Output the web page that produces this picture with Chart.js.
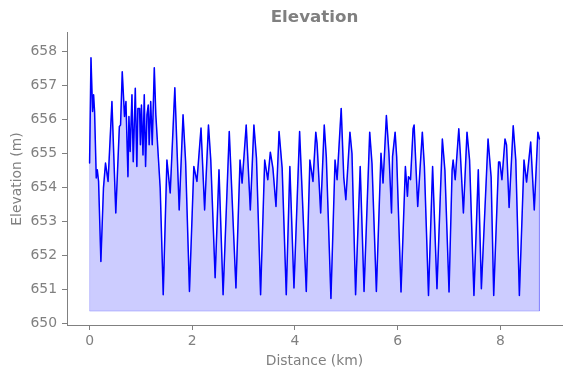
<!DOCTYPE html>
<html>
<head>
<meta charset="utf-8">
<script src="https://cdn.jsdelivr.net/npm/chart.js@4.4.0/dist/chart.umd.min.js"></script>
<style>
  html, body { margin: 0; padding: 0; background: #fff; }
  #wrap { width: 571px; height: 378px; }
</style>
</head>
<body>
<div id="wrap"><canvas id="elevChart" width="571" height="378"></canvas></div>
<script>
// Distance along the route (km) and elevation (m)
const distKm = [
  0.00, 0.027, 0.058, 0.078, 0.097, 0.13, 0.15, 0.175, 0.22, 0.27,
  0.31, 0.36, 0.435, 0.51, 0.58, 0.603, 0.636, 0.68, 0.708, 0.747,
  0.766, 0.79, 0.825, 0.85, 0.89, 0.92, 0.94, 0.973, 0.99, 1.01,
  1.04, 1.065, 1.09, 1.117, 1.142, 1.16, 1.19, 1.22, 1.26, 1.29,
  1.34, 1.375, 1.434, 1.506, 1.57, 1.66, 1.745, 1.82, 1.87, 1.945,
  2.03, 2.09, 2.17, 2.24, 2.315, 2.36, 2.445, 2.52, 2.60, 2.72,
  2.85, 2.93, 2.97, 3.05, 3.13, 3.20, 3.25, 3.33, 3.41, 3.47,
  3.52, 3.57, 3.63, 3.69, 3.75, 3.83, 3.90, 3.98, 4.09, 4.22,
  4.29, 4.35, 4.405, 4.43, 4.50, 4.57, 4.61, 4.70, 4.78, 4.82,
  4.90, 4.95, 4.99, 5.07, 5.11, 5.18, 5.27, 5.345, 5.455, 5.50,
  5.585, 5.675, 5.715, 5.78, 5.83, 5.88, 5.90, 5.95, 5.98, 6.065,
  6.15, 6.19, 6.21, 6.25, 6.30, 6.32, 6.39, 6.48, 6.52, 6.60,
  6.68, 6.765, 6.87, 6.92, 7.00, 7.06, 7.08, 7.12, 7.19, 7.22,
  7.28, 7.35, 7.40, 7.485, 7.57, 7.63, 7.76, 7.82, 7.87, 7.965,
  7.99, 8.03, 8.09, 8.12, 8.17, 8.25, 8.30, 8.37, 8.46, 8.51,
  8.59, 8.66, 8.73, 8.76
];
const elevM = [
  654.72, 657.82, 656.24, 656.73, 656.24, 654.28, 654.52, 654.18, 651.82, 653.98,
  654.72, 654.18, 656.53, 653.25, 655.80, 655.84, 657.41, 656.09, 656.53, 654.32,
  656.09, 655.06, 656.73, 654.76, 656.92, 654.62, 656.33, 656.33, 655.26, 656.43,
  654.96, 656.73, 654.62, 656.14, 656.43, 655.26, 656.53, 655.26, 657.53, 656.14,
  654.86, 653.98, 650.84, 654.81, 653.84, 656.94, 653.34, 656.14, 654.76, 650.94,
  654.62, 654.18, 655.75, 653.34, 655.84, 654.81, 651.34, 654.52, 650.84, 655.65,
  651.04, 654.81, 654.13, 655.84, 653.34, 655.84, 654.86, 650.84, 654.81, 654.23,
  655.04, 654.57, 653.44, 655.65, 654.57, 650.84, 654.62, 651.04, 655.65, 650.94,
  654.81, 654.18, 655.63, 655.30, 653.25, 655.84, 654.90, 650.73, 654.81, 654.23,
  656.33, 654.30, 653.64, 655.63, 655.00, 650.84, 654.62, 650.94, 655.63, 654.70,
  650.94, 655.01, 654.13, 656.12, 655.00, 653.25, 654.91, 655.63, 654.91, 650.92,
  654.62, 653.74, 654.32, 654.23, 655.73, 655.84, 653.44, 655.63, 654.62, 650.82,
  654.62, 651.02, 655.43, 654.50, 650.92, 654.52, 654.81, 654.23, 655.73, 655.00,
  653.25, 655.63, 654.81, 650.82, 654.52, 651.02, 655.43, 654.30, 650.82, 654.75,
  654.75, 654.23, 655.43, 655.25, 653.41, 655.82, 654.81, 650.82, 654.81, 654.16,
  655.34, 653.34, 655.63, 655.43
];
const fillBase = 650.36;
const xTicks = [0, 2, 4, 6, 8];
const yTicks = [650, 651, 652, 653, 654, 655, 656, 657, 658];

const gray = '#808080';
const profile = distKm.map((d, i) => ({ x: d, y: elevM[i] }));
const lastKm = distKm[distKm.length - 1];
const fillPts = [{ x: distKm[0], y: fillBase }, ...profile, { x: lastKm, y: fillBase }];
const basePts = [{ x: distKm[0], y: fillBase }, { x: lastKm, y: fillBase }];

// Title and axis labels
const labelsPlugin = {
  id: 'labels',
  afterDraw(chart) {
    const ctx = chart.ctx;
    const { left, right } = chart.chartArea;
    ctx.save();
    ctx.fillStyle = gray;
    ctx.textAlign = 'center';
    ctx.textBaseline = 'middle';
    ctx.font = 'bold 16.7px "DejaVu Sans"';
    ctx.fillText('Elevation', (left + right) / 2, 18);
    ctx.font = '13.9px "DejaVu Sans"';
    ctx.fillText('Distance (km)', (left + right) / 2, 361);
    ctx.translate(17, 179);
    ctx.rotate(-Math.PI / 2);
    ctx.fillText('Elevation (m)', 0, 0);
    ctx.restore();
  }
};

const tickFont = { family: 'DejaVu Sans', size: 13.9 };

new Chart(document.getElementById('elevChart').getContext('2d'), {
  type: 'scatter',
  data: {
    datasets: [
      {
        data: profile,
        showLine: true,
        borderColor: '#0000ff',
        borderWidth: 1.5,
        borderJoinStyle: 'round',
        borderCapStyle: 'round',
        pointRadius: 0,
        fill: false
      },
      {
        data: fillPts,
        showLine: true,
        borderColor: 'rgba(0,0,255,0.2)',
        borderWidth: 1,
        pointRadius: 0,
        backgroundColor: 'rgba(0,0,255,0.2)',
        fill: { value: fillBase }
      },
      {
        data: basePts,
        showLine: true,
        borderColor: 'rgba(0,0,255,0.2)',
        borderWidth: 1,
        pointRadius: 0,
        fill: false
      }
    ]
  },
  options: {
    responsive: false,
    animation: false,
    layout: { padding: { left: 0, right: 9, top: 32, bottom: 0 } },
    plugins: {
      legend: { display: false },
      tooltip: { enabled: false }
    },
    scales: {
      x: {
        type: 'linear',
        min: -0.44,
        max: 9.2,
        afterBuildTicks: (s) => { s.ticks = xTicks.map(v => ({ value: v })); },
        afterFit: (s) => { s.height = 53; },
        grid: { drawOnChartArea: false, drawTicks: true, tickLength: 5, color: gray },
        border: { display: true, color: gray, width: 1 },
        ticks: { color: gray, font: tickFont, padding: 3, maxRotation: 0 }
      },
      y: {
        min: 649.95,
        max: 658.58,
        afterBuildTicks: (s) => { s.ticks = yTicks.map(v => ({ value: v })); },
        afterFit: (s) => { s.width = 67; },
        grid: { drawOnChartArea: false, drawTicks: true, tickLength: 5, color: gray },
        border: { display: true, color: gray, width: 1 },
        ticks: { color: gray, font: tickFont, padding: 5 }
      }
    }
  },
  plugins: [labelsPlugin]
});
</script>
</body>
</html>
